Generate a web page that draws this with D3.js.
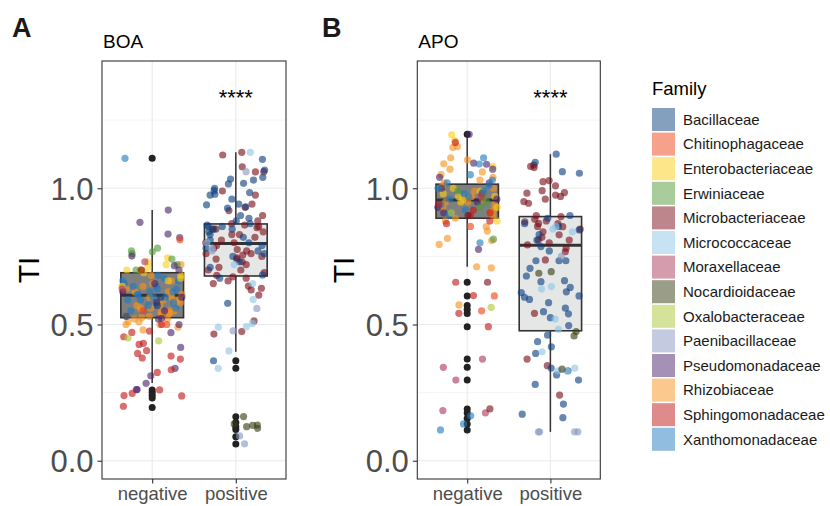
<!DOCTYPE html>
<html><head><meta charset="utf-8">
<script src="https://cdn.jsdelivr.net/npm/d3@7"></script>
<style>body{margin:0;background:#fff} svg{display:block} text{font-family:"Liberation Sans",Arial,Helvetica,sans-serif}</style>
</head><body><svg id="c" width="830" height="506"></svg>
<script>
// ---------- data ----------
const families = ["Bacillaceae","Chitinophagaceae","Enterobacteriaceae","Erwiniaceae","Microbacteriaceae","Micrococcaceae","Moraxellaceae","Nocardioidaceae","Oxalobacteraceae","Paenibacillaceae","Pseudomonadaceae","Rhizobiaceae","Sphingomonadaceae","Xanthomonadaceae"];
const familyColors = ["#0b3f7f","#ef4115","#fbcd15","#519939","#7b0d19","#8dc5e7","#ab395d","#353d11","#abc735","#8997c1","#4b236b","#f7931d","#c11717","#217bc1"];
const categories = ["negative","positive"];
const yTicks = [0, 0.5, 1.0];
const yTickLabels = ["0.0","0.5","1.0"];
const yMinor = [0.25, 0.75, 1.25];
const panelLetters = ["A","B"];
const panelTitles = ["BOA","APO"];
const signif = ["****","****"];

// points: [family, values]
const boaNeg = [
 ["Rhizobiaceae",[0.72,0.70,0.68,0.66,0.65,0.64,0.63,0.62,0.61,0.60,0.60,0.59,0.58,0.58,0.57,0.57,0.56,0.56,0.55,0.55,0.545,0.54,0.54,0.535,0.53,0.53,0.525,0.52,0.52,0.51,0.51,0.50,0.50,0.49,0.48,0.62,0.64,0.59,0.61]],
 ["Xanthomonadaceae",[1.11,0.68,0.67,0.66,0.65,0.64,0.63,0.63,0.62,0.62,0.61,0.61,0.60,0.60,0.59,0.59,0.58,0.57,0.56,0.55,0.66,0.64]],
 ["Enterobacteriaceae",[0.745,0.73,0.72,0.71,0.70,0.69,0.68,0.67,0.66,0.70,0.64]],
 ["Erwiniaceae",[0.78,0.77,0.767,0.76,0.74,0.72,0.70]],
 ["Pseudomonadaceae",[0.92,0.875,0.832,0.819,0.751,0.716,0.70,0.65,0.62,0.58,0.55,0.523,0.52,0.50,0.47,0.416,0.339,0.312,0.284,0.261,0.261,0.60]],
 ["Sphingomonadaceae",[0.476,0.471,0.455,0.431,0.427,0.404,0.394,0.384,0.377,0.373,0.334,0.324,0.26,0.247,0.239,0.238,0.2,0.5]],
 ["Chitinophagaceae",[0.811,0.50,0.55]],
 ["Oxalobacteraceae",[0.45,0.44]],
 ["Moraxellaceae",[0.73,0.63]],
 ["Bacillaceae",[0.60,0.57,0.53]],
 ["Microbacteriaceae",[0.70]]
];
const boaPos = [
 ["Microbacteriaceae",[1.132,1.122,1.079,1.061,1.06,0.975,0.942,0.918,0.90,0.88,0.87,0.865,0.86,0.855,0.85,0.84,0.83,0.82,0.81,0.80,0.80,0.79,0.78,0.775,0.77,0.76,0.755,0.75,0.745,0.74,0.73,0.72,0.71,0.70,0.69,0.68,0.675,0.67,0.66,0.65,0.641,0.633,0.627,0.608,0.513,0.474,0.465,0.76,0.74,0.85,0.83,0.70,0.93,0.99]],
 ["Bacillaceae",[1.106,1.067,1.04,1.034,1.03,1.018,1.016,1.0,0.991,0.984,0.978,0.975,0.96,0.942,0.939,0.932,0.927,0.90,0.89,0.88,0.87,0.865,0.86,0.85,0.84,0.83,0.82,0.81,0.80,0.79,0.78,0.77,0.76,0.75,0.73,0.71,0.682,0.67,0.578,0.367,0.85,0.86]],
 ["Micrococcaceae",[1.132,0.80,0.78,0.72,0.592,0.504,0.492,0.49,0.403,0.339,0.65]],
 ["Paenibacillaceae",[1.061,0.77,0.559,0.477,0.091,0.062]],
 ["Nocardioidaceae",[0.162,0.135,0.119,0.131,0.125,0.13]]
];
const apoNeg = [
 ["Rhizobiaceae",[1.153,1.15,1.112,1.104,1.09,1.07,1.06,1.05,1.04,1.03,1.02,1.01,1.0,0.99,0.98,0.97,0.96,0.95,0.94,0.93,0.92,0.91,0.90,0.89,0.88,0.859,0.843,0.816,0.808,0.794,0.712,0.708,0.572,0.95,0.97]],
 ["Enterobacteriaceae",[1.196,1.175,1.08,1.0,0.99,0.98,0.97,0.96,0.95,0.93,0.88,0.97]],
 ["Pseudomonadaceae",[1.198,1.092,1.088,1.07,1.04,1.02,1.0,0.98,0.96,0.95,0.93,0.91,0.776]],
 ["Xanthomonadaceae",[1.112,1.089,1.05,1.03,1.02,1.01,1.0,0.99,0.98,0.97,0.96,0.94,0.92,0.90,0.80,0.165,0.135,0.113]],
 ["Sphingomonadaceae",[1.168,0.94,0.91,0.90,0.88,0.87,0.655,0.606,0.541,0.492,0.92]],
 ["Chitinophagaceae",[0.605,0.55,0.86]],
 ["Erwiniaceae",[0.99,0.97,0.95,0.813,0.93]],
 ["Oxalobacteraceae",[0.563,0.91]],
 ["Moraxellaceae",[0.373,0.343,0.296,0.184,0.176,0.97]],
 ["Microbacteriaceae",[0.19,0.655,0.90]]
];
const apoPos = [
 ["Microbacteriaceae",[1.085,1.08,1.076,1.024,1.028,1.009,0.991,0.984,0.982,0.975,0.97,0.951,0.945,0.90,0.896,0.886,0.877,0.871,0.87,0.86,0.859,0.85,0.84,0.829,0.82,0.81,0.81,0.80,0.792,0.78,0.767,0.737,0.541,0.373,0.349,0.241,0.88,0.96]],
 ["Bacillaceae",[1.125,1.095,1.061,1.055,0.90,0.89,0.87,0.86,0.847,0.83,0.81,0.786,0.77,0.734,0.734,0.734,0.706,0.678,0.661,0.657,0.636,0.617,0.605,0.592,0.58,0.547,0.539,0.525,0.496,0.461,0.437,0.418,0.394,0.34,0.33,0.315,0.296,0.28,0.208,0.171,0.158,0.62,0.60,0.56]],
 ["Micrococcaceae",[0.85,0.84,0.86,0.639,0.63,0.52,0.482,0.40,0.34,0.33,0.328]],
 ["Nocardioidaceae",[0.688,0.694,0.474,0.458,0.336]],
 ["Paenibacillaceae",[0.106,0.106,0.106,0.106,0.75]]
];
// box stats: [lowerWhisker, q1, median, q3, upperWhisker]
const boaNegBox = [0.285,0.525,0.607,0.690,0.920];
const boaPosBox = [0.400,0.678,0.797,0.869,1.132];
const apoNegBox = [0.712,0.890,0.957,1.015,1.190];
const apoPosBox = [0.106,0.477,0.791,0.896,1.125];
const boaNegOut = [1.11,0.26,0.25,0.24,0.23,0.195];
const boaPosOut = [0.367,0.339,0.161,0.14,0.125,0.115,0.088,0.061];
const apoNegOut = [1.198,0.655,0.605,0.57,0.555,0.54,0.492,0.373,0.343,0.296,0.19,0.175,0.155,0.135,0.113];
const apoPosOut = [];
const boxFills = ["#7f7f7f","#e5e7e7"];

// ---------- drawing ----------
const svg = d3.select("#c");
const color = d3.scaleOrdinal().domain(families).range(familyColors);
function rng(seed){return function(){seed|=0;seed=seed+0x6D2B79F5|0;let t=Math.imul(seed^seed>>>15,1|seed);t=t+Math.imul(t^t>>>7,61|t)^t;return((t^t>>>14)>>>0)/4294967296;};}
const rand = rng(12345);
const plotTop = 61, plotBottom = 479;
const y = d3.scaleLinear().domain([-0.067,1.467]).range([plotBottom, plotTop]);

const panels = [
 {x0:102, x1:286, groups:[[boaNeg,boaNegBox,boaNegOut],[boaPos,boaPosBox,boaPosOut]], letterX:12, ylabX:39},
 {x0:417.3, x1:600.3, groups:[[apoNeg,apoNegBox,apoNegOut],[apoPos,apoPosBox,apoPosOut]], letterX:322, ylabX:354}
];

panels.forEach((p,pi)=>{
  const x = d3.scalePoint().domain(categories).range([p.x0,p.x1]).padding(0.6);
  const step = x.step();
  const g = svg.append("g");
  g.selectAll(".mn").data(yMinor).join("line").attr("x1",p.x0).attr("x2",p.x1)
    .attr("y1",d=>y(d)).attr("y2",d=>y(d)).attr("stroke","#f2f2f2").attr("stroke-width",0.8);
  g.selectAll(".mj").data(yTicks).join("line").attr("x1",p.x0).attr("x2",p.x1)
    .attr("y1",d=>y(d)).attr("y2",d=>y(d)).attr("stroke","#ebebeb").attr("stroke-width",1.2);
  g.selectAll(".vj").data(categories).join("line").attr("x1",d=>x(d)).attr("x2",d=>x(d))
    .attr("y1",plotTop).attr("y2",plotBottom).attr("stroke","#ebebeb").attr("stroke-width",1.2);
  p.groups.forEach((gr,gi)=>{
    const cat = categories[gi], cx = x(cat), bw = 0.75*step;
    const b = gr[1];
    g.append("line").attr("x1",cx).attr("x2",cx).attr("y1",y(b[3])).attr("y2",y(b[4])).attr("stroke","#333").attr("stroke-width",1.5);
    g.append("line").attr("x1",cx).attr("x2",cx).attr("y1",y(b[1])).attr("y2",y(b[0])).attr("stroke","#333").attr("stroke-width",1.5);
    g.append("rect").attr("x",cx-bw/2).attr("width",bw).attr("y",y(b[3])).attr("height",y(b[1])-y(b[3]))
      .attr("fill",boxFills[gi]).attr("stroke","#333").attr("stroke-width",1.6);
    g.append("line").attr("x1",cx-bw/2).attr("x2",cx+bw/2).attr("y1",y(b[2])).attr("y2",y(b[2])).attr("stroke","#333").attr("stroke-width",3);
    g.selectAll(null).data(gr[2]).join("circle").attr("cx",cx).attr("cy",d=>y(d)).attr("r",3.5).attr("fill","#222");
  });
  p.groups.forEach((gr,gi)=>{
    const cx = x(categories[gi]);
    const pts = [];
    gr[0].forEach(([fam,vals])=>vals.forEach(v=>pts.push({fam,v})));
    pts.forEach(d=>{d.jx = (rand()*2-1)*0.36*step;});
    d3.shuffle(pts, rand);
    g.selectAll(null).data(pts).join("circle").attr("cx",d=>cx+d.jx).attr("cy",d=>y(d.v)).attr("r",3.6)
      .attr("fill",d=>color(d.fam)).attr("fill-opacity",0.62);
  });
  g.append("text").attr("x",x("positive")).attr("y",105).attr("text-anchor","middle").attr("font-size",22).attr("fill","#000").text(signif[pi]);
  g.append("rect").attr("x",p.x0).attr("y",plotTop).attr("width",p.x1-p.x0).attr("height",plotBottom-plotTop).attr("fill","none").attr("stroke","#333").attr("stroke-width",1.1);
  const ya = g.append("g").attr("transform",`translate(${p.x0},0)`)
    .call(d3.axisLeft(y).tickValues(yTicks).tickFormat((d,i)=>yTickLabels[i]).tickSize(4.5).tickPadding(4));
  ya.select(".domain").remove();
  ya.selectAll("line").attr("stroke","#333").attr("stroke-width",1.1);
  ya.selectAll("text").attr("font-size",31).attr("fill","#4d4d4d").attr("font-family",null).attr("dy","0.36em");
  const xa = g.append("g").attr("transform",`translate(0,${plotBottom})`)
    .call(d3.axisBottom(x).tickSize(4.5).tickPadding(2));
  xa.select(".domain").remove();
  xa.selectAll("line").attr("stroke","#333").attr("stroke-width",1.1);
  xa.selectAll("text").attr("font-size",18.5).attr("fill","#4d4d4d").attr("font-family",null).attr("dy",null).attr("y",21);
  g.append("text").attr("x",p.x0+1).attr("y",48).attr("font-size",19).attr("fill","#000").text(panelTitles[pi]);
  g.append("text").attr("x",p.letterX).attr("y",37).attr("font-size",27).attr("font-weight","bold").attr("fill","#1a1a1a").text(panelLetters[pi]);
  g.append("text").attr("transform",`translate(${p.ylabX},270) rotate(-90)`).attr("text-anchor","middle").attr("font-size",30).attr("fill","#000").text("TI");
});

const lg = svg.append("g");
lg.append("text").attr("x",652).attr("y",95).attr("font-size",18.5).attr("fill","#000").text("Family");
const rowH = 24.6;
lg.selectAll("rect").data(families).join("rect").attr("x",652).attr("y",(d,i)=>108+i*rowH).attr("width",23).attr("height",23)
  .attr("fill",d=>color(d)).attr("fill-opacity",0.5);
lg.selectAll(".lt").data(families).join("text").attr("x",683).attr("y",(d,i)=>108+i*rowH+11.5).attr("dy","0.35em")
  .attr("font-size",15).attr("fill","#1a1a1a").text(d=>d);
</script></body></html>
